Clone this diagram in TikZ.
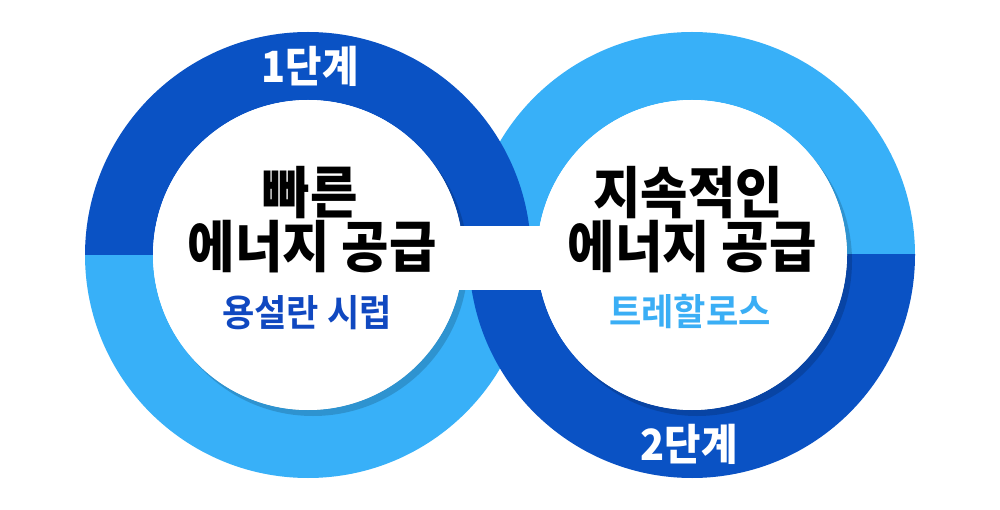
\documentclass[tikz,border=0pt]{standalone}
\usepackage{fontspec}
\newfontfamily\kr{Noto Sans CJK KR}[BoldFont={Noto Sans CJK KR Black}, BoldFeatures={FakeStretch=0.92}]
\newfontfamily\krs{Noto Sans CJK KR}[BoldFont={Noto Sans CJK KR Bold}, BoldFeatures={FakeStretch=0.95}]
\definecolor{darkb}{HTML}{0A52C4}
\definecolor{lightb}{HTML}{38B0F8}
\definecolor{subdark}{HTML}{1048C0}
\definecolor{sublight}{HTML}{3AAEF5}
\begin{document}
\begin{tikzpicture}[x=1pt,y=-1pt,
  title/.style={font=\kr\bfseries\fontsize{56}{60}\selectfont, text=black, inner sep=0pt, align=center},
  sub/.style={font=\krs\bfseries\fontsize{37}{40}\selectfont, inner sep=0pt},
  stage/.style={font=\kr\bfseries\fontsize{43}{46}\selectfont, text=white, inner sep=0pt},
  shade/.style={fill=black, opacity=0.16}]
\useasboundingbox (0,0) rectangle (1000,510);
\fill[white] (0,0) rectangle (1000,510);
\coordinate (L) at (308,255);
\coordinate (R) at (692,255);
% light halves
\begin{scope}
  \clip (0,255) rectangle (500,510);
  \fill[lightb, even odd rule] (L) circle (223) (L) circle (155);
\end{scope}
\begin{scope}
  \clip (470,0) rectangle (1000,255);
  \fill[lightb, even odd rule] (R) circle (223) (R) circle (155);
\end{scope}
% dark halves
\begin{scope}
  \clip (0,0) rectangle (540,255);
  \fill[darkb, even odd rule] (L) circle (223) (L) circle (155);
\end{scope}
\begin{scope}
  \clip (460,255) rectangle (1000,510);
  \fill[darkb, even odd rule] (R) circle (223) (R) circle (155);
\end{scope}
% inner shadows
\fill[shade] ([shift={(5,6)}]L) circle (155);
\fill[shade] ([shift={(5,6)}]R) circle (155);
% white centres
\fill[white] (L) circle (155);
\fill[white] (R) circle (155);
\fill[white] (452,226) rectangle (548,290);
% texts
\node[stage] (s1) at (310,66) {1단계};
\node[stage] (s2) at (689,444) {2단계};
\node[title] (l1) at (310,193) {빠른};
\node[title] (l2) at (312,247) {에너지 공급};
\node[sub, text=subdark] (l3) at (307,313) {용설란 시럽};
\node[title] (r1) at (688,193) {지속적인};
\node[title] (r2) at (692,247) {에너지 공급};
\node[sub, text=sublight] (r3) at (690,312) {트레할로스};
\end{tikzpicture}
\end{document}
